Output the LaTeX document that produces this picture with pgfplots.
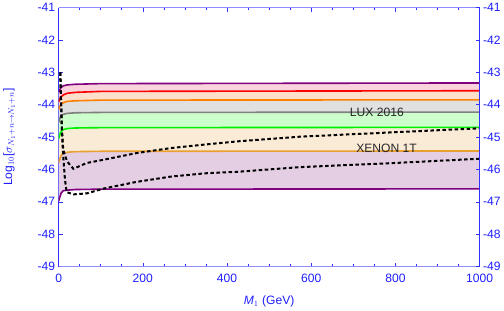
\documentclass[border=0pt]{standalone}
\usepackage{pgfplots}
\pgfplotsset{compat=1.18}
\usepgfplotslibrary{fillbetween}
\usepackage{fontspec}
\setmainfont{Liberation Sans}
\definecolor{tickblue}{RGB}{30,30,255}
\definecolor{ylinecol}{RGB}{50,50,255}
\definecolor{xlinecol}{RGB}{140,140,255}
\definecolor{mpurple}{RGB}{128,0,128}
\definecolor{mred}{RGB}{255,0,0}
\definecolor{morange}{RGB}{255,128,0}
\definecolor{mgray}{RGB}{128,128,128}
\definecolor{mgreen}{RGB}{0,240,0}
\definecolor{xorange}{RGB}{232,160,48}
\definecolor{fpink}{RGB}{250,212,220}
\definecolor{fpeach}{RGB}{252,224,204}
\definecolor{fgray}{RGB}{224,224,224}
\definecolor{fgreen}{RGB}{204,255,204}
\definecolor{fwheat}{RGB}{250,235,214}
\definecolor{fpurple}{RGB}{228,206,228}
\begin{document}
\begin{tikzpicture}
\pgfplotsset{
  common/.style={
    scale only axis, width=416bp, height=256bp,
    xmin=0, xmax=1000, ymin=-49, ymax=-41,
    ytick={-49,-48,...,-41},
    tick style={color=ylinecol, line width=0.6pt},
    major tick length=4bp,
    minor tick length=2.5bp,
    tick align=inside,
    ticklabel style={color=tickblue, font=\fontsize{12}{14}\selectfont},
    /pgf/number format/assume math mode=true,
    /pgf/number format/1000 sep={},
  }
}
\begin{axis}[common,
  separate axis lines,
  x axis line style={color=xlinecol, line width=0.8pt},
  y axis line style={color=ylinecol, line width=0.8pt},
  xtick={0,200,...,1000},
  minor x tick num=3,
  xtick pos=both, ytick pos=both,
  xticklabel pos=bottom, yticklabel pos=left,
  xticklabel style={yshift=-4bp},
  xlabel={\textit{M}$_1$ (GeV)},
  ylabel={Log$_{10}$[$\sigma_{N_1+n\to N_1+n}$]},
  label style={color=tickblue, font=\fontsize{12}{14}\selectfont},
  xlabel style={at={(axis description cs:0.5,-0.1)}, anchor=north},
  ylabel style={at={(axis description cs:-0.095,0.5)}, anchor=south},
  clip=true,
]
\addplot[name path=P1, mpurple, line width=1.6pt] coordinates {(0,-43.62)(3,-43.53)(6,-43.47)(11,-43.42)(20,-43.39)(40,-43.37)(100,-43.35)(1000,-43.33)};
\addplot[name path=R, mred, line width=1.6pt] coordinates {(0,-43.92)(3,-43.82)(6,-43.76)(11,-43.70)(20,-43.65)(40,-43.62)(100,-43.59)(1000,-43.57)};
\addplot[name path=O, morange, line width=1.6pt] coordinates {(0,-44.15)(3,-44.05)(6,-43.98)(11,-43.94)(20,-43.90)(40,-43.88)(100,-43.86)(1000,-43.85)};
\addplot[name path=G, mgray, line width=1.6pt] coordinates {(0,-44.55)(3,-44.42)(6,-44.34)(11,-44.30)(20,-44.27)(40,-44.25)(100,-44.24)(1000,-44.23)};
\addplot[name path=GR, mgreen, line width=1.6pt] coordinates {(0,-45.05)(3,-44.92)(6,-44.83)(11,-44.77)(20,-44.74)(40,-44.72)(100,-44.71)(1000,-44.70)};
\addplot[name path=X, xorange, line width=1.6pt] coordinates {(0,-45.80)(3,-45.68)(6,-45.57)(11,-45.50)(20,-45.47)(40,-45.45)(100,-45.44)(1000,-45.43)};
\addplot[name path=B, mpurple, line width=1.6pt] coordinates {(0,-46.98)(3,-46.85)(6,-46.73)(11,-46.66)(20,-46.64)(40,-46.62)(100,-46.61)(1000,-46.60)};
\pgfonlayer{axis background}
\addplot[fpink] fill between[of=P1 and R];
\addplot[fpeach] fill between[of=R and O];
\addplot[fgray] fill between[of=O and G];
\addplot[fgreen] fill between[of=G and GR];
\addplot[fwheat] fill between[of=GR and X];
\addplot[fpurple] fill between[of=X and B];
\endpgfonlayer
\addplot[black, line width=2pt, dash pattern=on 3.5pt off 2.5pt] coordinates {(4,-43.0)(6,-44.0)(8,-44.8)(11,-45.4)(20,-45.75)(35,-45.98)(67,-45.8)(107,-45.7)(187,-45.49)(267,-45.34)(348,-45.23)(428,-45.13)(572,-44.99)(800,-44.85)(1000,-44.73)};
\addplot[black, line width=2pt, dash pattern=on 3.5pt off 2.5pt] coordinates {(4,-43.0)(6,-44.0)(8,-44.9)(11,-45.6)(15,-46.3)(19,-46.7)(35,-46.77)(67,-46.74)(107,-46.59)(187,-46.38)(267,-46.22)(348,-46.12)(428,-46.07)(572,-45.93)(800,-45.8)(1000,-45.67)};
\node[text=black!85, font=\fontsize{12}{14}\selectfont] at (axis cs:756,-44.24) {LUX 2016};
\node[text=black!85, font=\fontsize{12}{14}\selectfont] at (axis cs:779,-45.35) {XENON 1T};
\end{axis}
\begin{axis}[common,
  hide x axis,
  axis y line*=right,
  y axis line style={color=ylinecol, line width=0.8pt, -},
  ytick pos=right, yticklabel pos=right,
]
\end{axis}
\end{tikzpicture}
\end{document}
